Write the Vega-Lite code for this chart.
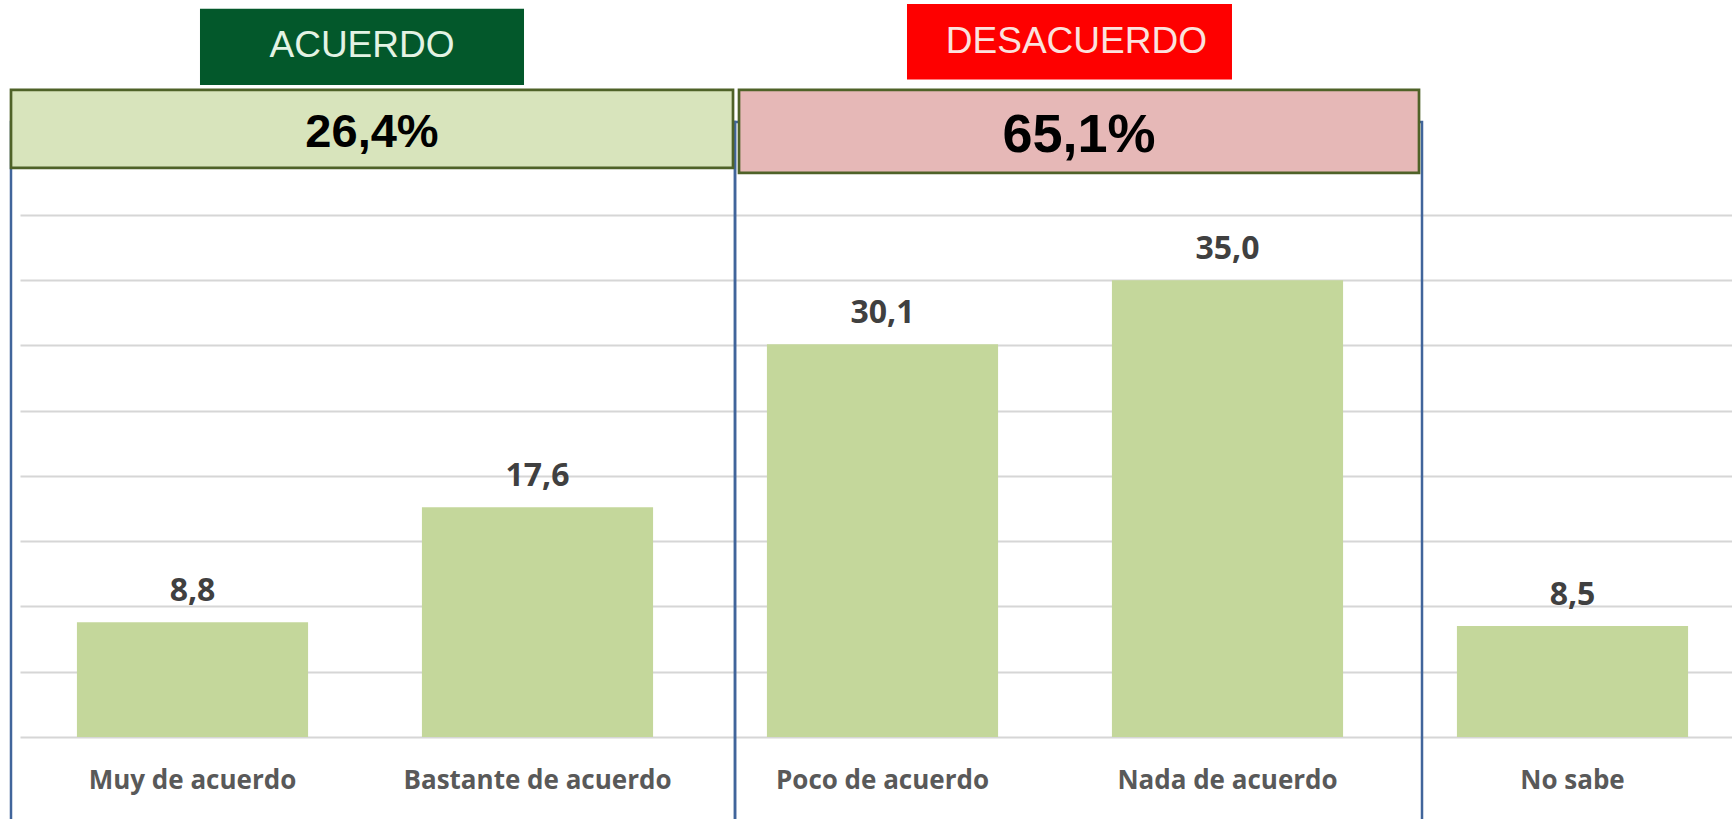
{
  "$schema": "https://vega.github.io/schema/vega-lite/v6.json",
  "width": 1712,
  "height": 737,
  "autosize": {"type": "none"},
  "padding": {"left": 20, "top": 0, "right": 0, "bottom": 82},
  "background": "white",
  "config": {"view": {"stroke": null}},
  "datasets": {
    "bars": [
      {"cat": "Muy de acuerdo", "value": 8.8, "label": "8,8"},
      {"cat": "Bastante de acuerdo", "value": 17.6, "label": "17,6"},
      {"cat": "Poco de acuerdo", "value": 30.1, "label": "30,1"},
      {"cat": "Nada de acuerdo", "value": 35.0, "label": "35,0"},
      {"cat": "No sabe", "value": 8.5, "label": "8,5"}
    ],
    "groups": [
      {"group": "ACUERDO", "total": "26,4%", "bx0": -0.0261, "bx1": 2.0667, "by0": 43.6, "by1": 49.58, "fx0": -0.0261, "fx1": 2.0725, "fy0": -7.2, "fy1": 47.13, "lx0": 0.5217, "lx1": 1.4609, "ly0": 49.96, "ly1": 55.79, "xc": 1.0203, "lxc": 0.9913, "ytot": 45.21, "ylab": 52.11},
      {"group": "DESACUERDO", "total": "65,1%", "bx0": 2.0841, "bx1": 4.0551, "by0": 43.22, "by1": 49.58, "fx0": 2.0725, "fx1": 4.0638, "fy0": -7.2, "fy1": 47.13, "lx0": 2.571, "lx1": 3.513, "ly0": 50.38, "ly1": 56.17, "xc": 3.0696, "lxc": 3.062, "ytot": 44.83, "ylab": 52.41}
    ]
  },
  "resolve": {"scale": {"x": "independent"}},
  "layer": [
    {
      "data": {"name": "bars"},
      "mark": {"type": "bar", "color": "#c4d79b"},
      "encoding": {
        "x": {"field": "cat", "type": "nominal", "sort": null,
          "scale": {"range": [0, 1725], "paddingInner": 0.33, "paddingOuter": 0.165},
          "axis": {"title": null, "labelAngle": 0, "ticks": false, "tickSize": 0, "domain": false, "grid": false,
            "labelBaseline": "alphabetic", "labelPadding": 51, "labelFont": "Open Sans", "labelFontSize": 26,
            "labelFontWeight": "bold", "labelColor": "#595959", "labelOverlap": false, "labelLimit": 400}},
        "y": {"field": "value", "type": "quantitative",
          "scale": {"domain": [0, 56.47], "nice": false, "zero": true},
          "axis": {"title": null, "labels": false, "ticks": false, "domain": false,
            "values": [0, 5, 10, 15, 20, 25, 30, 35, 40], "gridColor": "#d6d6d6", "gridWidth": 1.8}}
      }
    },
    {
      "data": {"name": "bars"},
      "mark": {"type": "text", "font": "Open Sans", "fontWeight": "bold", "fontSize": 32, "color": "#404040", "baseline": "alphabetic", "dy": -21},
      "encoding": {
        "x": {"field": "cat", "type": "nominal", "sort": null,
          "scale": {"range": [0, 1725], "paddingInner": 0.33, "paddingOuter": 0.165}, "axis": null},
        "y": {"field": "value", "type": "quantitative", "scale": {"domain": [0, 56.47], "nice": false}},
        "text": {"field": "label"}
      }
    },
    {
      "data": {"name": "groups"},
      "mark": {"type": "rect", "fill": null, "fillOpacity": 0, "stroke": "#41659b", "strokeWidth": 2.5},
      "encoding": {
        "x": {"field": "fx0", "type": "quantitative", "scale": {"domain": [0, 5], "range": [0, 1725], "nice": false, "zero": false}, "axis": null},
        "x2": {"field": "fx1"},
        "y": {"field": "fy0", "type": "quantitative", "scale": {"domain": [0, 56.47], "nice": false}},
        "y2": {"field": "fy1"}
      }
    },
    {
      "data": {"name": "groups"},
      "transform": [{"filter": "datum.group === 'ACUERDO'"}],
      "mark": {"type": "rect", "fill": "#d8e4bc", "stroke": "#4f6228", "strokeWidth": 2.7},
      "encoding": {
        "x": {"field": "bx0", "type": "quantitative", "scale": {"domain": [0, 5], "range": [0, 1725], "nice": false, "zero": false}, "axis": null},
        "x2": {"field": "bx1"},
        "y": {"field": "by0", "type": "quantitative", "scale": {"domain": [0, 56.47], "nice": false}},
        "y2": {"field": "by1"}
      }
    },
    {
      "data": {"name": "groups"},
      "transform": [{"filter": "datum.group === 'DESACUERDO'"}],
      "mark": {"type": "rect", "fill": "#e6b8b7", "stroke": "#4f6228", "strokeWidth": 2.7},
      "encoding": {
        "x": {"field": "bx0", "type": "quantitative", "scale": {"domain": [0, 5], "range": [0, 1725], "nice": false, "zero": false}, "axis": null},
        "x2": {"field": "bx1"},
        "y": {"field": "by0", "type": "quantitative", "scale": {"domain": [0, 56.47], "nice": false}},
        "y2": {"field": "by1"}
      }
    },
    {
      "data": {"name": "groups"},
      "transform": [{"filter": "datum.group === 'ACUERDO'"}],
      "mark": {"type": "rect", "fill": "#03582b"},
      "encoding": {
        "x": {"field": "lx0", "type": "quantitative", "scale": {"domain": [0, 5], "range": [0, 1725], "nice": false, "zero": false}, "axis": null},
        "x2": {"field": "lx1"},
        "y": {"field": "ly0", "type": "quantitative", "scale": {"domain": [0, 56.47], "nice": false}},
        "y2": {"field": "ly1"}
      }
    },
    {
      "data": {"name": "groups"},
      "transform": [{"filter": "datum.group === 'DESACUERDO'"}],
      "mark": {"type": "rect", "fill": "#fe0000"},
      "encoding": {
        "x": {"field": "lx0", "type": "quantitative", "scale": {"domain": [0, 5], "range": [0, 1725], "nice": false, "zero": false}, "axis": null},
        "x2": {"field": "lx1"},
        "y": {"field": "ly0", "type": "quantitative", "scale": {"domain": [0, 56.47], "nice": false}},
        "y2": {"field": "ly1"}
      }
    },
    {
      "data": {"name": "groups"},
      "transform": [{"filter": "datum.group === 'ACUERDO'"}],
      "mark": {"type": "text", "font": "Liberation Sans", "fontWeight": "bold", "fontSize": 47, "color": "#000000", "baseline": "alphabetic", "align": "center"},
      "encoding": {
        "x": {"field": "xc", "type": "quantitative", "scale": {"domain": [0, 5], "range": [0, 1725], "nice": false, "zero": false}, "axis": null},
        "y": {"field": "ytot", "type": "quantitative", "scale": {"domain": [0, 56.47], "nice": false}},
        "text": {"field": "total"}
      }
    },
    {
      "data": {"name": "groups"},
      "transform": [{"filter": "datum.group === 'DESACUERDO'"}],
      "mark": {"type": "text", "font": "Liberation Sans", "fontWeight": "bold", "fontSize": 54, "color": "#000000", "baseline": "alphabetic", "align": "center"},
      "encoding": {
        "x": {"field": "xc", "type": "quantitative", "scale": {"domain": [0, 5], "range": [0, 1725], "nice": false, "zero": false}, "axis": null},
        "y": {"field": "ytot", "type": "quantitative", "scale": {"domain": [0, 56.47], "nice": false}},
        "text": {"field": "total"}
      }
    },
    {
      "data": {"name": "groups"},
      "mark": {"type": "text", "font": "Liberation Sans", "fontSize": 37, "baseline": "alphabetic", "align": "center"},
      "encoding": {
        "x": {"field": "lxc", "type": "quantitative", "scale": {"domain": [0, 5], "range": [0, 1725], "nice": false, "zero": false}, "axis": null},
        "y": {"field": "ylab", "type": "quantitative", "scale": {"domain": [0, 56.47], "nice": false}},
        "text": {"field": "group"},
        "color": {"field": "group", "type": "nominal", "scale": {"domain": ["ACUERDO", "DESACUERDO"], "range": ["#e4f3e4", "#fbe2de"]}, "legend": null}
      }
    }
  ]
}
